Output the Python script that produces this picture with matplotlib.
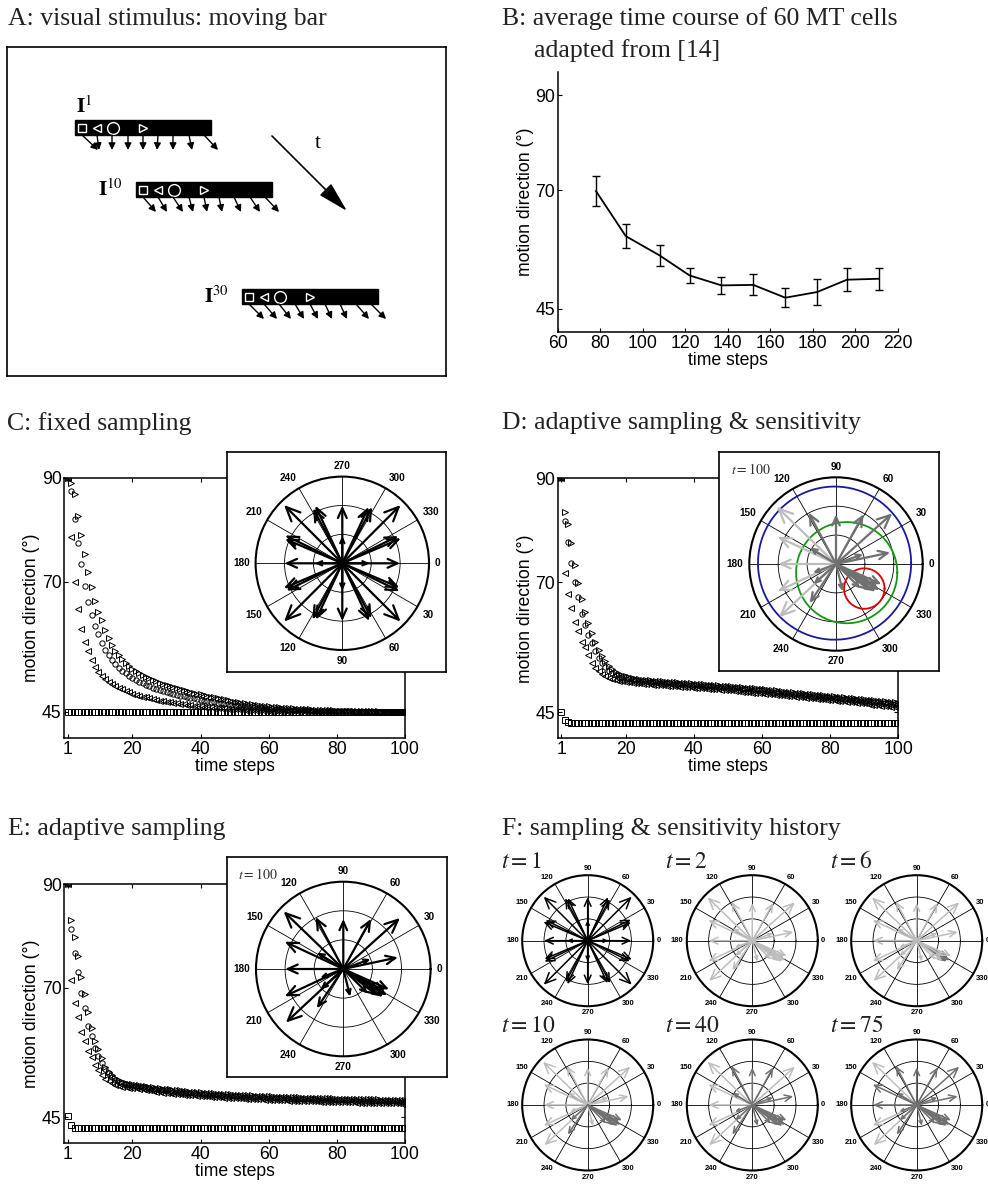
import numpy as np
import matplotlib
matplotlib.use('Agg')
import matplotlib.pyplot as plt
from matplotlib.patches import Rectangle

plt.rcParams['font.family'] = ['Liberation Sans', 'DejaVu Sans']
plt.rcParams['mathtext.fontset'] = 'stix'

W, H = 988, 1186

# ---------------- data ----------------
# B: average MT time course
b_steps = [78, 92, 108, 122, 137, 152, 167, 182, 196, 211]
b_dir = [69.8, 60.3, 56.2, 52.0, 49.9, 50.0, 47.3, 48.5, 51.1, 51.3]
b_err = [3.2, 2.6, 2.2, 1.6, 1.8, 2.2, 2.0, 2.8, 2.4, 2.3]

steps = list(range(1, 101))

# C: fixed sampling (square, left triangle, circle, right triangle)
c_square = [
    45.0, 45.0, 45.0, 45.0, 45.0, 45.0, 45.0, 45.0, 45.0, 45.0,
    45.0, 45.0, 45.0, 45.0, 45.0, 45.0, 45.0, 45.0, 45.0, 45.0,
    45.0, 45.0, 45.0, 45.0, 45.0, 45.0, 45.0, 45.0, 45.0, 45.0,
    45.0, 45.0, 45.0, 45.0, 45.0, 45.0, 45.0, 45.0, 45.0, 45.0,
    45.0, 45.0, 45.0, 45.0, 45.0, 45.0, 45.0, 45.0, 45.0, 45.0,
    45.0, 45.0, 45.0, 45.0, 45.0, 45.0, 45.0, 45.0, 45.0, 45.0,
    45.0, 45.0, 45.0, 45.0, 45.0, 45.0, 45.0, 45.0, 45.0, 45.0,
    45.0, 45.0, 45.0, 45.0, 45.0, 45.0, 45.0, 45.0, 45.0, 45.0,
    45.0, 45.0, 45.0, 45.0, 45.0, 45.0, 45.0, 45.0, 45.0, 45.0,
    45.0, 45.0, 45.0, 45.0, 45.0, 45.0, 45.0, 45.0, 45.0, 45.0]
c_left = [
    90.0, 78.6, 70.0, 64.7, 61.0, 58.5, 56.8, 55.0, 53.6, 52.6,
    51.9, 51.3, 50.8, 50.4, 50.0, 49.7, 49.4, 49.1, 48.8, 48.5,
    48.3, 48.1, 47.9, 47.8, 47.6, 47.5, 47.3, 47.2, 47.1, 47.0,
    46.9, 46.8, 46.7, 46.6, 46.5, 46.4, 46.3, 46.2, 46.1, 46.1,
    46.0, 45.9, 45.9, 45.8, 45.8, 45.7, 45.7, 45.6, 45.6, 45.5,
    45.5, 45.5, 45.4, 45.4, 45.4, 45.3, 45.3, 45.3, 45.3, 45.2,
    45.2, 45.2, 45.2, 45.2, 45.1, 45.1, 45.1, 45.1, 45.1, 45.1,
    45.1, 45.1, 45.0, 45.0, 45.0, 45.0, 45.0, 45.0, 45.0, 45.0,
    45.0, 45.0, 45.0, 45.0, 45.0, 45.0, 45.0, 45.0, 45.0, 45.0,
    45.0, 45.0, 45.0, 45.0, 45.0, 45.0, 45.0, 45.0, 45.0, 45.0]
c_circle = [
    90.0, 87.4, 82.1, 77.4, 73.4, 69.2, 66.1, 63.7, 61.5, 59.9,
    58.3, 56.9, 55.9, 55.0, 54.2, 53.5, 52.9, 52.4, 51.9, 51.5,
    51.1, 50.8, 50.5, 50.2, 49.9, 49.6, 49.4, 49.2, 49.0, 48.8,
    48.6, 48.4, 48.3, 48.1, 48.0, 47.8, 47.7, 47.6, 47.4, 47.3,
    47.2, 47.1, 47.0, 46.9, 46.8, 46.7, 46.6, 46.5, 46.4, 46.3,
    46.2, 46.1, 46.1, 46.0, 45.9, 45.9, 45.8, 45.7, 45.7, 45.6,
    45.6, 45.5, 45.5, 45.5, 45.4, 45.4, 45.4, 45.3, 45.3, 45.3,
    45.3, 45.2, 45.2, 45.2, 45.2, 45.2, 45.1, 45.1, 45.1, 45.1,
    45.1, 45.1, 45.1, 45.1, 45.0, 45.0, 45.0, 45.0, 45.0, 45.0,
    45.0, 45.0, 45.0, 45.0, 45.0, 45.0, 45.0, 45.0, 45.0, 45.0]
c_right = [
    90.0, 89.0, 86.8, 82.7, 79.0, 75.3, 71.9, 69.0, 66.3, 64.2,
    62.6, 60.8, 59.3, 57.8, 56.8, 55.9, 55.1, 54.4, 53.8, 53.3,
    52.9, 52.5, 52.1, 51.8, 51.5, 51.2, 50.9, 50.6, 50.4, 50.2,
    50.0, 49.8, 49.6, 49.4, 49.2, 49.0, 48.8, 48.7, 48.5, 48.4,
    48.2, 48.1, 47.9, 47.8, 47.7, 47.5, 47.4, 47.3, 47.2, 47.0,
    46.9, 46.8, 46.7, 46.6, 46.5, 46.4, 46.3, 46.2, 46.2, 46.1,
    46.0, 45.9, 45.9, 45.8, 45.8, 45.7, 45.7, 45.6, 45.6, 45.5,
    45.5, 45.5, 45.4, 45.4, 45.4, 45.3, 45.3, 45.3, 45.3, 45.2,
    45.2, 45.2, 45.2, 45.2, 45.1, 45.1, 45.1, 45.1, 45.1, 45.1,
    45.1, 45.1, 45.0, 45.0, 45.0, 45.0, 45.0, 45.0, 45.0, 45.0]

# D: adaptive sampling & sensitivity
d_square = [
    45.0, 43.6, 43.1, 43.0, 43.0, 43.0, 43.0, 43.0, 43.0, 43.0,
    43.0, 43.0, 43.0, 43.0, 43.0, 43.0, 43.0, 43.0, 43.0, 43.0,
    43.0, 43.0, 43.0, 43.0, 43.0, 43.0, 43.0, 43.0, 43.0, 43.0,
    43.0, 43.0, 43.0, 43.0, 43.0, 43.0, 43.0, 43.0, 43.0, 43.0,
    43.0, 43.0, 43.0, 43.0, 43.0, 43.0, 43.0, 43.0, 43.0, 43.0,
    43.0, 43.0, 43.0, 43.0, 43.0, 43.0, 43.0, 43.0, 43.0, 43.0,
    43.0, 43.0, 43.0, 43.0, 43.0, 43.0, 43.0, 43.0, 43.0, 43.0,
    43.0, 43.0, 43.0, 43.0, 43.0, 43.0, 43.0, 43.0, 43.0, 43.0,
    43.0, 43.0, 43.0, 43.0, 43.0, 43.0, 43.0, 43.0, 43.0, 43.0,
    43.0, 43.0, 43.0, 43.0, 43.0, 43.0, 43.0, 43.0, 43.0, 43.0]
d_left = [
    90.0, 71.7, 67.7, 65.0, 62.4, 60.7, 58.6, 57.6, 56.0, 54.4,
    53.6, 52.9, 52.3, 51.9, 51.6, 51.4, 51.2, 51.1, 51.0, 50.9,
    50.8, 50.7, 50.7, 50.6, 50.5, 50.5, 50.4, 50.3, 50.3, 50.2,
    50.2, 50.1, 50.1, 50.0, 50.0, 49.9, 49.9, 49.8, 49.8, 49.7,
    49.7, 49.6, 49.6, 49.5, 49.5, 49.4, 49.4, 49.3, 49.3, 49.2,
    49.2, 49.1, 49.1, 49.0, 48.9, 48.9, 48.8, 48.8, 48.7, 48.7,
    48.6, 48.5, 48.5, 48.4, 48.3, 48.3, 48.2, 48.1, 48.1, 48.0,
    47.9, 47.9, 47.8, 47.7, 47.7, 47.6, 47.5, 47.5, 47.4, 47.3,
    47.3, 47.2, 47.1, 47.1, 47.0, 46.9, 46.9, 46.8, 46.7, 46.7,
    46.6, 46.5, 46.5, 46.4, 46.3, 46.3, 46.2, 46.1, 46.1, 46.0]
d_circle = [
    90.0, 81.8, 77.7, 73.8, 70.1, 67.1, 64.0, 61.8, 59.9, 58.3,
    56.8, 55.5, 54.5, 53.7, 53.0, 52.5, 52.1, 51.8, 51.6, 51.5,
    51.4, 51.3, 51.2, 51.1, 51.0, 51.0, 50.9, 50.8, 50.8, 50.7,
    50.7, 50.6, 50.6, 50.5, 50.5, 50.4, 50.4, 50.3, 50.3, 50.2,
    50.2, 50.1, 50.1, 50.0, 50.0, 49.9, 49.9, 49.8, 49.8, 49.7,
    49.7, 49.6, 49.6, 49.5, 49.4, 49.4, 49.3, 49.3, 49.2, 49.2,
    49.1, 49.0, 49.0, 48.9, 48.8, 48.8, 48.7, 48.6, 48.6, 48.5,
    48.4, 48.4, 48.3, 48.2, 48.2, 48.1, 48.0, 48.0, 47.9, 47.8,
    47.8, 47.7, 47.6, 47.6, 47.5, 47.4, 47.4, 47.3, 47.2, 47.2,
    47.1, 47.0, 47.0, 46.9, 46.8, 46.8, 46.7, 46.6, 46.6, 46.5]
d_right = [
    90.0, 83.5, 81.2, 77.5, 73.3, 69.9, 66.7, 64.2, 62.2, 60.2,
    58.6, 57.0, 55.8, 54.8, 54.0, 53.3, 52.8, 52.4, 52.1, 51.9,
    51.7, 51.6, 51.5, 51.4, 51.3, 51.3, 51.2, 51.1, 51.1, 51.0,
    51.0, 50.9, 50.9, 50.8, 50.8, 50.7, 50.7, 50.6, 50.6, 50.5,
    50.5, 50.4, 50.4, 50.3, 50.3, 50.2, 50.2, 50.1, 50.1, 50.0,
    50.0, 49.9, 49.9, 49.8, 49.7, 49.7, 49.6, 49.6, 49.5, 49.5,
    49.4, 49.3, 49.3, 49.2, 49.1, 49.1, 49.0, 48.9, 48.9, 48.8,
    48.7, 48.7, 48.6, 48.5, 48.5, 48.4, 48.3, 48.3, 48.2, 48.1,
    48.1, 48.0, 47.9, 47.9, 47.8, 47.7, 47.7, 47.6, 47.5, 47.5,
    47.4, 47.3, 47.3, 47.2, 47.1, 47.1, 47.0, 46.9, 46.9, 46.8]

# E: adaptive sampling
e_square = [
    45.2, 43.6, 43.0, 43.0, 43.0, 43.0, 43.0, 43.0, 43.0, 43.0,
    43.0, 43.0, 43.0, 43.0, 43.0, 43.0, 43.0, 43.0, 43.0, 43.0,
    43.0, 43.0, 43.0, 43.0, 43.0, 43.0, 43.0, 43.0, 43.0, 43.0,
    43.0, 43.0, 43.0, 43.0, 43.0, 43.0, 43.0, 43.0, 43.0, 43.0,
    43.0, 43.0, 43.0, 43.0, 43.0, 43.0, 43.0, 43.0, 43.0, 43.0,
    43.0, 43.0, 43.0, 43.0, 43.0, 43.0, 43.0, 43.0, 43.0, 43.0,
    43.0, 43.0, 43.0, 43.0, 43.0, 43.0, 43.0, 43.0, 43.0, 43.0,
    43.0, 43.0, 43.0, 43.0, 43.0, 43.0, 43.0, 43.0, 43.0, 43.0,
    43.0, 43.0, 43.0, 43.0, 43.0, 43.0, 43.0, 43.0, 43.0, 43.0,
    43.0, 43.0, 43.0, 43.0, 43.0, 43.0, 43.0, 43.0, 43.0, 43.0]
e_left = [
    90.0, 71.5, 67.0, 64.4, 61.5, 59.8, 57.8, 56.7, 55.1, 54.2,
    53.2, 52.5, 52.0, 51.6, 51.3, 51.1, 50.9, 50.8, 50.7, 50.6,
    50.6, 50.5, 50.4, 50.3, 50.2, 50.1, 50.0, 49.9, 49.8, 49.8,
    49.7, 49.6, 49.6, 49.5, 49.4, 49.4, 49.3, 49.3, 49.2, 49.2,
    49.1, 49.1, 49.0, 49.0, 48.9, 48.9, 48.8, 48.8, 48.8, 48.7,
    48.7, 48.7, 48.6, 48.6, 48.6, 48.5, 48.5, 48.5, 48.4, 48.4,
    48.4, 48.3, 48.3, 48.3, 48.3, 48.2, 48.2, 48.2, 48.2, 48.1,
    48.1, 48.1, 48.1, 48.1, 48.0, 48.0, 48.0, 48.0, 48.0, 47.9,
    47.9, 47.9, 47.9, 47.9, 47.9, 47.8, 47.8, 47.8, 47.8, 47.8,
    47.8, 47.8, 47.7, 47.7, 47.7, 47.7, 47.7, 47.7, 47.6, 47.6]
e_circle = [
    90.0, 81.3, 76.7, 73.0, 69.0, 66.1, 62.7, 60.8, 58.4, 56.9,
    55.5, 54.4, 53.5, 52.8, 52.3, 51.9, 51.6, 51.4, 51.2, 51.1,
    51.0, 50.9, 50.8, 50.7, 50.6, 50.5, 50.4, 50.3, 50.2, 50.2,
    50.1, 50.0, 50.0, 49.9, 49.8, 49.8, 49.7, 49.7, 49.6, 49.6,
    49.5, 49.5, 49.4, 49.4, 49.3, 49.3, 49.2, 49.2, 49.2, 49.1,
    49.1, 49.1, 49.0, 49.0, 49.0, 48.9, 48.9, 48.9, 48.8, 48.8,
    48.8, 48.7, 48.7, 48.7, 48.7, 48.6, 48.6, 48.6, 48.6, 48.5,
    48.5, 48.5, 48.5, 48.5, 48.4, 48.4, 48.4, 48.4, 48.4, 48.3,
    48.3, 48.3, 48.3, 48.3, 48.3, 48.2, 48.2, 48.2, 48.2, 48.2,
    48.2, 48.2, 48.1, 48.1, 48.1, 48.1, 48.1, 48.1, 48.0, 48.0]
e_right = [
    90.0, 83.1, 79.9, 76.2, 72.2, 68.9, 65.3, 62.3, 59.8, 58.2,
    56.4, 54.8, 53.8, 53.1, 52.6, 52.2, 51.9, 51.7, 51.5, 51.4,
    51.3, 51.2, 51.1, 51.0, 50.9, 50.8, 50.7, 50.6, 50.5, 50.5,
    50.4, 50.3, 50.3, 50.2, 50.1, 50.1, 50.0, 50.0, 49.9, 49.9,
    49.8, 49.8, 49.7, 49.7, 49.6, 49.6, 49.5, 49.5, 49.5, 49.4,
    49.4, 49.4, 49.3, 49.3, 49.3, 49.2, 49.2, 49.2, 49.1, 49.1,
    49.1, 49.0, 49.0, 49.0, 49.0, 48.9, 48.9, 48.9, 48.9, 48.8,
    48.8, 48.8, 48.8, 48.8, 48.7, 48.7, 48.7, 48.7, 48.7, 48.6,
    48.6, 48.6, 48.6, 48.6, 48.6, 48.5, 48.5, 48.5, 48.5, 48.5,
    48.5, 48.5, 48.4, 48.4, 48.4, 48.4, 48.4, 48.4, 48.3, 48.3]

# polar vector sets: angle (deg) and length (ring units, outer ring = 3)
init_ang = [0, 90, 180, 270, 45, 135, 225, 315,
            23, 26, 62, 65, 115, 118, 154, 157,
            203, 206, 242, 245, 295, 298, 334, 337,
            0, 90, 180, 270]
init_len = [2.0, 2.0, 2.0, 2.0, 2.85, 2.85, 2.85, 2.85,
            2.15, 2.2, 2.15, 2.2, 2.15, 2.2, 2.15, 2.2,
            2.15, 2.2, 2.15, 2.2, 2.15, 2.2, 2.15, 2.2,
            0.95, 0.95, 0.95, 0.95]

adapt_ang = [136, 118, 90, 61, 42, 12, 20, 155, 148, 180, 205, 201,
             223, 236, 222, 284, 315, 325, 332, 329, 322, 336, 330]
adapt_len = [2.85, 2.02, 1.72, 1.97, 2.62, 1.92, 1.0, 2.22, 1.07, 2.0, 2.22, 0.85,
             2.7, 1.63, 1.05, 0.98, 1.2, 1.67, 1.62, 1.76, 1.48, 1.72, 1.4]

# shade per vector: K black, M mid gray, L light gray
shade_d = ['L', 'M', 'M', 'M', 'M', 'M', 'M', 'L', 'M', 'L', 'L', 'M',
           'L', 'M', 'M', 'M', 'M', 'M', 'M', 'M', 'M', 'M', 'M']
shade_e = ['K'] * 23
f_times = [1, 2, 6, 10, 40, 75]
f_shades = {
    2: ['L'] * 23,
    6: ['L', 'L', 'L', 'L', 'L', 'L', 'L', 'L', 'L', 'L', 'L', 'L',
        'L', 'L', 'L', 'L', 'L', 'M', 'M', 'M', 'L', 'L', 'L'],
    10: ['L', 'L', 'L', 'L', 'L', 'L', 'L', 'L', 'L', 'L', 'L', 'L',
         'L', 'M', 'M', 'L', 'M', 'M', 'M', 'M', 'M', 'M', 'M'],
    40: ['L', 'M', 'M', 'M', 'L', 'M', 'M', 'L', 'M', 'L', 'L', 'M',
         'L', 'M', 'M', 'M', 'M', 'M', 'M', 'M', 'M', 'M', 'M'],
    75: ['L', 'M', 'M', 'M', 'M', 'M', 'M', 'M', 'M', 'M', 'L', 'M',
         'L', 'M', 'M', 'M', 'M', 'M', 'M', 'M', 'M', 'M', 'M'],
}
shade_col = {'K': 'black', 'M': '#707070', 'L': '#bdbdbd'}

# D sensitivity circles (centre x, centre y, radius)
circ_cx = [-0.05, 0.37, 0.98]
circ_cy = [0.03, -0.30, -0.85]
circ_r = [2.65, 1.75, 0.70]
circ_col = ['#1a1a99', '#119911', '#dd0000']

# A: stimulus bars
bar_left = [68, 129, 235]
bar_top = [73, 135, 242]
bar_labels = [r'$\mathbf{I}^{1}$', r'$\mathbf{I}^{10}$', r'$\mathbf{I}^{30}$']
arrow_x0 = [7, 22, 37, 53, 68, 83, 98, 114, 129]
arrow_dx = [[16, 2, 0, 0, 0, -1, 0, 3, 14],
            [13, 9, 10, 4, 3, 3, 7, 10, 14],
            [15, 13, 12, 9, 8, 7, 7, 13, 15]]

theta_labels = list(range(0, 360, 30))

# ---------------- figure ----------------
fig = plt.figure(figsize=(W / 100, H / 100), dpi=100)


def px_axes(l, t, r, b, **kw):
    return fig.add_axes([l / W, 1 - b / H, (r - l) / W, (b - t) / H], **kw)


def title(x, y, s):
    fig.text(x / W, 1 - y / H, s, family='Liberation Serif', fontsize=18.5,
             va='baseline', ha='left', color='#222222')


def main_axes(l, t, r, b):
    ax = px_axes(l, t, r, b)
    ax.set_xlim(0, 100)
    ax.set_ylim(40, 90)
    ax.set_xticks([1, 20, 40, 60, 80, 100])
    ax.set_yticks([45, 70, 90])
    ax.tick_params(direction='in', top=True, right=True, length=3, width=0.8,
                   labelsize=12.7, pad=2)
    for s in ax.spines.values():
        s.set_linewidth(1.1)
    ax.set_xlabel('time steps', fontsize=12.7, labelpad=0)
    ax.set_ylabel('motion direction (°)', fontsize=12.7, labelpad=1)
    return ax


def scatter_series(ax, series):
    for vals, mk in zip(series, ['s', '<', 'o', '>']):
        ax.plot(steps, vals, ls='none', marker=mk, ms=3.8, mfc='none',
                mec='black', mew=0.7)


def polar_at(cx, cy, rad, clockwise, fs, gap):
    ax = px_axes(cx - rad, cy - rad, cx + rad, cy + rad, projection='polar')
    if clockwise:
        ax.set_theta_direction(-1)
    ax.set_ylim(0, 3)
    ax.set_rticks([1, 2])
    ax.set_yticklabels([])
    ax.set_thetagrids(theta_labels, [''] * len(theta_labels))
    ax.grid(True, color='black', lw=0.6, ls='-')
    ax.spines['polar'].set_linewidth(1.5)
    # angle labels placed edge-on just outside the circle
    for a in theta_labels:
        scr = np.deg2rad(-a if clockwise else a)
        c, s = np.cos(scr), np.sin(scr)
        ha = 'left' if c > 0.1 else ('right' if c < -0.1 else 'center')
        va = 'bottom' if s > 0.1 else ('top' if s < -0.1 else 'center')
        ax.text(np.deg2rad(a), 3 + gap, str(a), ha=ha, va=va, fontsize=fs,
                fontweight='bold', clip_on=False)
    return ax


def vectors(ax, angs, lens, cols, lw, unit_px):
    for a, r, c in zip(angs, lens, cols):
        hl = 0.17 * r * unit_px / 13.89
        hw = 0.45 * hl
        ax.annotate('', xy=(np.deg2rad(a), r), xytext=(0, 0),
                    arrowprops=dict(arrowstyle=f'->,head_length={hl:.3f},head_width={hw:.3f}',
                                    color=c, lw=lw, shrinkA=0, shrinkB=0,
                                    mutation_scale=10),
                    annotation_clip=False)


def inset_frame(l, t, r, b):
    ax = px_axes(l, t, r, b)
    ax.set_xticks([])
    ax.set_yticks([])
    for s in ax.spines.values():
        s.set_linewidth(1.2)
    return ax


# ---- A ----
title(8, 25, 'A: visual stimulus: moving bar')
axA = px_axes(7, 47, 446, 376)
axA.set_xlim(0, 439)
axA.set_ylim(329, 0)
axA.set_xticks([])
axA.set_yticks([])
for s in axA.spines.values():
    s.set_linewidth(1.2)
for i, (bx, by) in enumerate(zip(bar_left, bar_top)):
    axA.add_patch(Rectangle((bx, by), 136, 15, color='black'))
    yc = by + 7.5
    axA.plot(bx + 7, yc, 's', ms=6, mfc='none', mec='white', mew=1)
    axA.plot(bx + 22, yc, '<', ms=6, mfc='none', mec='white', mew=1)
    axA.plot(bx + 38, yc, 'o', ms=8.5, mfc='none', mec='white', mew=1)
    axA.plot(bx + 68, yc, '>', ms=6, mfc='none', mec='white', mew=1)
    for x0, dx in zip(arrow_x0, arrow_dx[i]):
        axA.annotate('', xy=(bx + x0 + dx, by + 30), xytext=(bx + x0, by + 15),
                     arrowprops=dict(arrowstyle='-|>,head_length=0.5,head_width=0.25',
                                     color='black', lw=1.0, shrinkA=0, shrinkB=0,
                                     mutation_scale=8))
axA.text(69, 66, bar_labels[0], fontsize=15, va='baseline', ha='left')
axA.text(91, 149, bar_labels[1], fontsize=15, va='baseline', ha='left')
axA.text(197, 256, bar_labels[2], fontsize=15, va='baseline', ha='left')
axA.annotate('', xy=(340, 164), xytext=(265, 89),
             arrowprops=dict(arrowstyle='-|>,head_length=0.95,head_width=0.25',
                             color='black', lw=1.2, shrinkA=0, shrinkB=0,
                             mutation_scale=20))
axA.text(311, 97, 't', family='Liberation Serif', fontsize=15, ha='center', va='center')

# ---- B ----
title(502, 25, 'B: average time course of 60 MT cells')
title(534, 57, 'adapted from [14]')
axB = px_axes(557.7, 71.7, 898, 332.3)
axB.errorbar(b_steps, b_dir, yerr=b_err, color='black', lw=1.3, capsize=3,
             elinewidth=1.0, capthick=1.0)
axB.set_xlim(60, 220)
axB.set_ylim(40, 95)
axB.set_xticks(range(60, 221, 20))
axB.set_yticks([45, 70, 90])
axB.spines['top'].set_visible(False)
axB.spines['right'].set_visible(False)
for s in axB.spines.values():
    s.set_linewidth(1.1)
axB.tick_params(direction='in', length=3, width=0.8, labelsize=12.7, pad=2)
axB.set_xlabel('time steps', fontsize=12.7, labelpad=0)
axB.set_ylabel('motion direction (°)', fontsize=12.7, labelpad=1)

# ---- C ----
title(7, 430, 'C: fixed sampling')
axC = main_axes(64.3, 477.7, 405, 738)
scatter_series(axC, [c_square, c_left, c_circle, c_right])
inset_frame(227, 452, 446, 672)
pC = polar_at(342.3, 563.3, 86.7, True, 7.2, 0.2)
vectors(pC, init_ang, init_len, ['black'] * len(init_ang), 1.6, 28.9)

# ---- D ----
title(502, 429, 'D: adaptive sampling & sensitivity')
axD = main_axes(557.7, 478.3, 898.3, 738.3)
scatter_series(axD, [d_square, d_left, d_circle, d_right])
frD = inset_frame(719, 452, 939, 671)
frD.text(0.055, 0.92, '$t = 100$', transform=frD.transAxes, fontsize=10,
         color='#333333', va='center')
pD = polar_at(836, 564, 86.7, False, 7.2, 0.2)
vectors(pD, adapt_ang, adapt_len, [shade_col[s] for s in shade_d], 1.6, 28.9)
ring = np.linspace(0, 2 * np.pi, 300)
for cx, cy, rr, col in zip(circ_cx, circ_cy, circ_r, circ_col):
    xs = cx + rr * np.cos(ring)
    ys = cy + rr * np.sin(ring)
    pD.plot(np.unwrap(np.arctan2(ys, xs)), np.hypot(xs, ys), color=col, lw=1.3)

# ---- E ----
title(8, 835, 'E: adaptive sampling')
axE = main_axes(64.3, 884.3, 405, 1143.3)
scatter_series(axE, [e_square, e_left, e_circle, e_right])
frE = inset_frame(227, 857, 447, 1077)
frE.text(0.05, 0.92, '$t = 100$', transform=frE.transAxes, fontsize=10,
         color='#333333', va='center')
pE = polar_at(343.3, 969, 87.3, False, 7.2, 0.2)
vectors(pE, adapt_ang, adapt_len, [shade_col[s] for s in shade_e], 1.6, 29.1)

# ---- F ----
title(502, 835, 'F: sampling & sensitivity history')
f_cx = [587.7, 752.3, 916.7]
f_cy = [940.7, 1105]
f_tx = [501, 665, 830]
f_ty = [868, 1032]
for k, tt in enumerate(f_times):
    row, col = divmod(k, 3)
    p = polar_at(f_cx[col], f_cy[row], 65.5, False, 5.5, 0.15)
    if tt == 1:
        vectors(p, init_ang, init_len, ['black'] * len(init_ang), 1.1, 21.8)
    else:
        vectors(p, adapt_ang, adapt_len, [shade_col[s] for s in f_shades[tt]], 1.1, 21.8)
    fig.text(f_tx[col] / W, 1 - f_ty[row] / H, f'$t = {tt}$', fontsize=17,
             va='baseline', ha='left', color='#222222')

fig.savefig('out.png', dpi=100)
